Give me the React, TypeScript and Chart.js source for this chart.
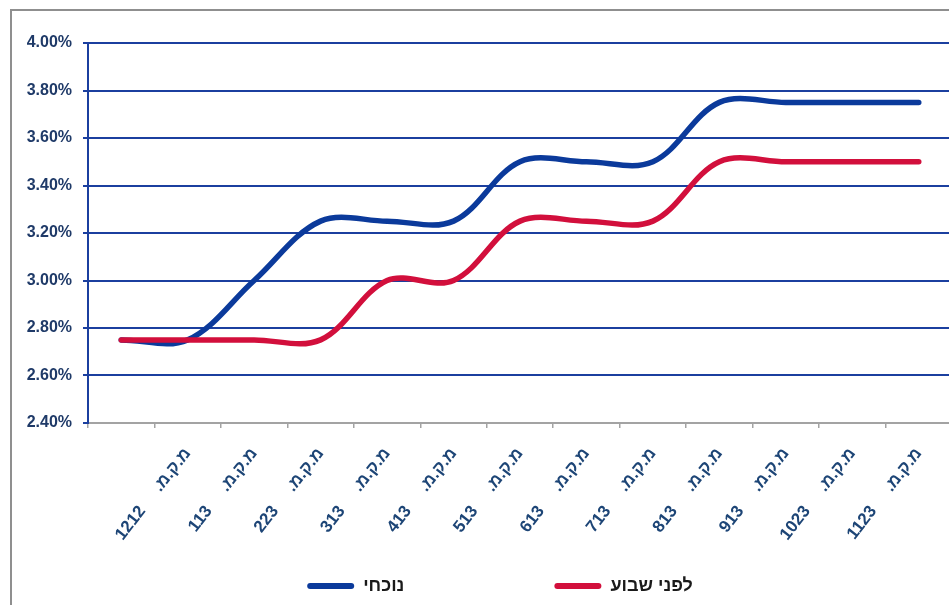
import React, { useEffect, useRef } from 'react';
import { Chart, registerables } from 'chart.js';

Chart.register(...registerables);

const LRO = '\u202D';
const PDF = '\u202C';

// category codes (first category carries no label)
const categoryCodes = ['', '1212', '113', '223', '313', '413', '513', '613', '713', '813', '913', '1023', '1123'];
const categorySuffix = '.מ.ק.מ';
const currentRates = [2.75, 2.75, 3.0, 3.25, 3.25, 3.25, 3.5, 3.5, 3.5, 3.75, 3.75, 3.75, 3.75];
const weekAgoRates = [2.75, 2.75, 2.75, 2.75, 3.0, 3.0, 3.25, 3.25, 3.25, 3.5, 3.5, 3.5, 3.5];
const seriesNames = ['נוכחי', 'לפני שבוע'];
const yMin = 2.4;
const yMax = 4.0;
const yStep = 0.2;

const BLUE = '#0b3a9b';
const RED = '#d20f3c';
const GRID = '#1b3f9f';
const AXIS_GRAY = '#a3a3a3';
const TEXT_NAVY = '#1f3a68';
const FONT = "'Liberation Sans', Arial, sans-serif";

const categoryLabels = categoryCodes.map((c) =>
  c ? LRO + c + '     ' + categorySuffix + PDF : ''
);

export default function App() {
  const ref = useRef<HTMLCanvasElement | null>(null);

  useEffect(() => {
    if (!ref.current) return;
    const legendGap = '\u2003'.repeat(8);
    const chart = new Chart(ref.current, {
      type: 'line',
      data: {
        labels: categoryLabels,
        datasets: [
          {
            label: seriesNames[0],
            data: currentRates,
            borderColor: BLUE,
            backgroundColor: BLUE,
            borderWidth: 5.5,
            pointRadius: 0,
            tension: 0.35,
            borderCapStyle: 'round',
            borderJoinStyle: 'round',
            order: 1,
          },
          {
            label: seriesNames[1],
            data: weekAgoRates,
            borderColor: RED,
            backgroundColor: RED,
            borderWidth: 5.5,
            pointRadius: 0,
            tension: 0.35,
            borderCapStyle: 'round',
            borderJoinStyle: 'round',
            order: 0,
          },
        ],
      },
      options: {
        responsive: false,
        animation: false,
        layout: { padding: { left: 0, right: 0, top: 43, bottom: 0 } },
        plugins: {
          tooltip: { enabled: false },
          legend: {
            position: 'bottom',
            labels: {
              boxWidth: 47,
              boxHeight: 6,
              padding: 6,
              useBorderRadius: true,
              borderRadius: 3,
              color: '#1a1a1a',
              font: { family: FONT, size: 18, weight: 'bold' },
              sort: (a: any, b: any) => a.datasetIndex - b.datasetIndex,
              generateLabels: (ch: any) => {
                const items = (Chart as any).defaults.plugins.legend.labels.generateLabels(ch);
                return items.map((it: any) => ({
                  ...it,
                  text: it.text + (it.datasetIndex === 0 ? legendGap : ''),
                  fillStyle: it.strokeStyle,
                  lineWidth: 0,
                  borderRadius: 3,
                }));
              },
            },
          },
        },
        scales: {
          x: {
            offset: true,
            grid: {
              display: true,
              offset: true,
              drawOnChartArea: false,
              drawTicks: true,
              tickLength: 5,
              color: AXIS_GRAY,
              lineWidth: 1.5,
            },
            border: { display: true, color: AXIS_GRAY, width: 2 },
            ticks: {
              autoSkip: false,
              maxRotation: 52,
              minRotation: 52,
              padding: 16,
              color: '#1d4576',
              font: { family: FONT, size: 17, weight: 'bold' },
            },
            afterFit: (s: any) => {
              s.height = 148;
            },
          },
          y: {
            min: yMin,
            max: yMax,
            ticks: {
              stepSize: yStep,
              padding: 11,
              color: TEXT_NAVY,
              font: { family: FONT, size: 16, weight: 'bold' },
              callback: (v: any) => Number(v).toFixed(2) + '%',
            },
            grid: {
              color: (ctx: any) =>
                ctx.tick && ctx.tick.value <= yMin + 1e-9 ? 'rgba(0,0,0,0)' : GRID,
              tickColor: GRID,
              lineWidth: 2,
              tickLength: 5,
            },
            border: { display: true, color: GRID, width: 2 },
            afterFit: (s: any) => {
              s.width = 88;
            },
          },
          yR: {
            type: 'linear',
            position: 'right',
            display: true,
            grid: { display: false, drawTicks: false },
            border: { display: false },
            ticks: { display: false },
            afterFit: (s: any) => {
              s.width = 48;
            },
          },
        },
      } as any,
    });
    return () => chart.destroy();
  }, []);

  return (
    <div
      style={{
        position: 'fixed',
        left: 0,
        top: 0,
        width: 949,
        height: 605,
        overflow: 'hidden',
        background: '#ffffff',
      }}
    >
      <div
        style={{
          position: 'absolute',
          left: 10,
          top: 9,
          width: 1200,
          height: 800,
          borderLeft: '2px solid #8f8f8f',
          borderTop: '2px solid #8f8f8f',
        }}
      />
      <canvas
        ref={ref}
        width={1000}
        height={605}
        style={{ position: 'absolute', left: 0, top: 0, width: 1000, height: 605 }}
      />
    </div>
  );
}
